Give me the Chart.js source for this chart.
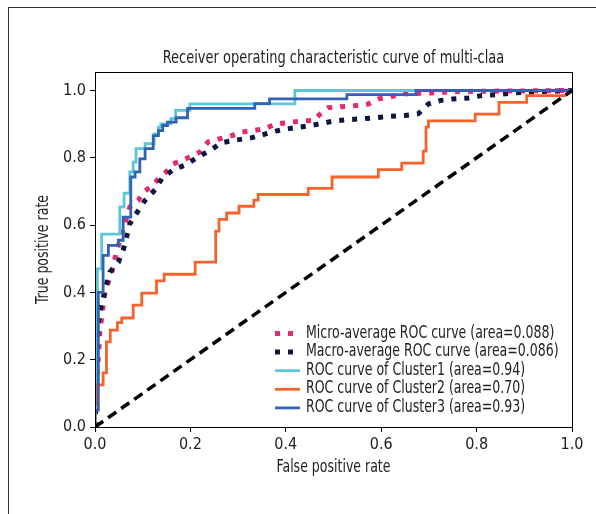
<!DOCTYPE html>
<html>
<head>
<meta charset="utf-8">
<script src="https://cdn.jsdelivr.net/npm/chart.js@4.4.1/dist/chart.umd.min.js"></script>
<style>
  html, body { margin: 0; padding: 0; background: #fff; }
  #wrap { position: relative; width: 596px; height: 514px; }
  #frame { position: absolute; left: 8px; top: 7px; right: 0; bottom: 0;
           border-left: 1px solid #333; border-top: 1px solid #333; pointer-events: none; }
</style>
</head>
<body>
<div id="wrap">
  <canvas id="roc" width="596" height="514" style="width:596px;height:514px"></canvas>
  <div id="frame"></div>
</div>
<script>
var FONT = '"DejaVu Sans Condensed", "Liberation Sans Narrow", sans-serif';
var TEXT_COLOR = '#222';

var titleText = 'Receiver operating characteristic curve of multi-claa';
var xLabel = 'False positive rate';
var yLabel = 'True positive rate';

var xTicks = [0, 0.2, 0.4, 0.6, 0.8, 1.0];
var yTicks = [0, 0.2, 0.4, 0.6, 0.8, 1.0];

var seriesNames = ['Micro-average ROC curve', 'Macro-average ROC curve',
                   'ROC curve of Cluster1', 'ROC curve of Cluster2', 'ROC curve of Cluster3'];
var areas = ['0.088', '0.086', '0.94', '0.70', '0.93'];

// micro / macro averaged curves
var microFpr = [0, 0.002, 0.005, 0.010, 0.017, 0.021, 0.028, 0.035, 0.045, 0.059, 0.073, 0.091, 0.101, 0.119,
                0.136, 0.149, 0.164, 0.195, 0.22, 0.237, 0.287, 0.304, 0.332, 0.356, 0.377, 0.43, 0.458, 0.472,
                0.489, 0.545, 0.573, 0.594, 0.618, 0.64, 0.698, 0.75, 1.0];
var microTpr = [0, 0.06, 0.16, 0.28, 0.36, 0.40, 0.43, 0.46, 0.52, 0.587, 0.654, 0.674, 0.698, 0.715,
                0.743, 0.758, 0.782, 0.80, 0.817, 0.847, 0.866, 0.876, 0.881, 0.886, 0.90, 0.909, 0.911, 0.93,
                0.949, 0.955, 0.96, 0.975, 0.98, 0.99, 0.992, 0.997, 1.0];

var macroFpr = [0, 0.003, 0.007, 0.010, 0.025, 0.031, 0.049, 0.059, 0.073, 0.091, 0.105, 0.126, 0.14, 0.164,
                0.192, 0.213, 0.241, 0.266, 0.297, 0.329, 0.381, 0.412, 0.444, 0.468, 0.5, 0.528, 0.559, 0.587,
                0.618, 0.65, 0.678, 0.699, 0.723, 0.75, 0.783, 0.811, 0.842, 0.87, 0.9, 0.93, 0.96, 1.0];
var macroTpr = [0, 0.2, 0.31, 0.34, 0.43, 0.46, 0.49, 0.525, 0.604, 0.644, 0.674, 0.705, 0.738, 0.765,
                0.78, 0.80, 0.822, 0.845, 0.853, 0.86, 0.88, 0.888, 0.894, 0.90, 0.909, 0.913, 0.916, 0.919,
                0.923, 0.926, 0.931, 0.96, 0.97, 0.975, 0.978, 0.985, 0.988, 0.992, 0.995, 0.997, 0.998, 1.0];

// per-cluster step curves
var c1Fpr = [0, 0, 0.005, 0.005, 0.014, 0.014, 0.052, 0.052, 0.061, 0.061, 0.073, 0.073, 0.080, 0.080,
             0.086, 0.086, 0.105, 0.105, 0.124, 0.124, 0.133, 0.133, 0.138, 0.138, 0.159, 0.159, 0.169,
             0.169, 0.199, 0.199, 0.419, 0.419, 1.0];
var c1Tpr = [0, 0.13, 0.13, 0.47, 0.47, 0.573, 0.573, 0.654, 0.654, 0.695, 0.695, 0.758, 0.758, 0.787,
             0.787, 0.827, 0.827, 0.842, 0.842, 0.871, 0.871, 0.891, 0.891, 0.901, 0.901, 0.916, 0.916,
             0.941, 0.941, 0.96, 0.96, 1.0, 1.0];

var c2Fpr = [0, 0, 0.004, 0.004, 0.017, 0.017, 0.024, 0.024, 0.032, 0.032, 0.047, 0.047, 0.056, 0.056,
             0.080, 0.080, 0.098, 0.098, 0.129, 0.129, 0.145, 0.145, 0.210, 0.210, 0.253, 0.253, 0.260,
             0.260, 0.276, 0.276, 0.302, 0.302, 0.333, 0.333, 0.342, 0.342, 0.447, 0.447, 0.497, 0.497,
             0.594, 0.594, 0.643, 0.643, 0.688, 0.688, 0.694, 0.694, 0.699, 0.699, 0.797, 0.797, 0.847,
             0.847, 0.905, 0.905, 0.985, 1.0];
var c2Tpr = [0, 0.065, 0.065, 0.125, 0.125, 0.161, 0.161, 0.253, 0.253, 0.288, 0.288, 0.31, 0.31, 0.324,
             0.324, 0.362, 0.362, 0.398, 0.398, 0.434, 0.434, 0.454, 0.454, 0.49, 0.49, 0.582, 0.582,
             0.617, 0.617, 0.636, 0.636, 0.656, 0.656, 0.674, 0.674, 0.691, 0.691, 0.709, 0.709, 0.743,
             0.743, 0.765, 0.765, 0.784, 0.784, 0.82, 0.82, 0.891, 0.891, 0.91, 0.91, 0.93, 0.93,
             0.965, 0.965, 0.985, 0.985, 1.0];

var c3Fpr = [0, 0, 0.007, 0.007, 0.017, 0.017, 0.028, 0.028, 0.049, 0.049, 0.059, 0.059, 0.075, 0.075,
             0.084, 0.084, 0.094, 0.094, 0.105, 0.105, 0.122, 0.122, 0.133, 0.133, 0.142, 0.142, 0.152,
             0.152, 0.170, 0.170, 0.194, 0.194, 0.335, 0.335, 0.366, 0.366, 0.528, 0.528, 0.673, 0.673, 1.0];
var c3Tpr = [0, 0.05, 0.05, 0.40, 0.40, 0.51, 0.51, 0.54, 0.54, 0.555, 0.555, 0.624, 0.624, 0.743,
             0.743, 0.758, 0.758, 0.797, 0.797, 0.827, 0.827, 0.866, 0.866, 0.881, 0.881, 0.896, 0.896,
             0.906, 0.906, 0.919, 0.919, 0.947, 0.947, 0.961, 0.961, 0.975, 0.975, 0.988, 0.988, 1.0, 1.0];

var chanceFpr = [0, 1];
var chanceTpr = [0, 1];

function pts(xs, ys) {
  return xs.map(function (x, i) { return { x: x, y: ys[i] }; });
}

var datasets = [
  { label: seriesNames[0] + ' (area=' + areas[0] + ')', data: pts(microFpr, microTpr),
    borderColor: '#e8296b', borderWidth: 5, borderDash: [5, 8], order: 6 },
  { label: seriesNames[1] + ' (area=' + areas[1] + ')', data: pts(macroFpr, macroTpr),
    borderColor: '#0c1741', borderWidth: 5, borderDash: [5, 8], order: 5 },
  { label: seriesNames[2] + ' (area=' + areas[2] + ')', data: pts(c1Fpr, c1Tpr),
    borderColor: '#5bc6d6', borderWidth: 2.8, order: 4 },
  { label: seriesNames[3] + ' (area=' + areas[3] + ')', data: pts(c2Fpr, c2Tpr),
    borderColor: '#f4642a', borderWidth: 2.8, order: 3 },
  { label: seriesNames[4] + ' (area=' + areas[4] + ')', data: pts(c3Fpr, c3Tpr),
    borderColor: '#3262b3', borderWidth: 2.8, order: 2 },
  { label: 'chance', data: pts(chanceFpr, chanceTpr),
    borderColor: '#000', borderWidth: 3.5, borderDash: [10, 6], order: 1, noLegend: true }
];
datasets.forEach(function (d) {
  d.pointRadius = 0;
  d.fill = false;
  d.tension = 0;
  d.borderCapStyle = 'butt';
});

// text squeezed horizontally around its anchor point (narrow label face)
function narrowText(ctx, text, x, y, align, squeeze, rot) {
  ctx.save();
  ctx.translate(x, y);
  if (rot) ctx.rotate(rot);
  ctx.scale(squeeze, 1);
  ctx.textAlign = align;
  ctx.textBaseline = 'alphabetic';
  ctx.fillText(text, 0, 0);
  ctx.restore();
}

// plot frame, title, axis titles and the legend box
var rocDecor = {
  id: 'rocDecor',
  afterDatasetsDraw: function (chart) {
    var ctx = chart.ctx, a = chart.chartArea;
    var cx = (a.left + a.right) / 2, cy = (a.top + a.bottom) / 2;
    ctx.save();
    ctx.strokeStyle = '#000';
    ctx.lineWidth = 1;
    ctx.strokeRect(a.left + 0.5, a.top + 0.5, a.right - a.left, a.bottom - a.top);

    ctx.fillStyle = TEXT_COLOR;
    ctx.font = '17px ' + FONT;
    narrowText(ctx, titleText, cx, a.top - 9, 'center', 0.85);
    narrowText(ctx, xLabel, cx, a.bottom + 45, 'center', 0.82);
    narrowText(ctx, yLabel, a.left - 47, cy, 'center', 0.82, -Math.PI / 2);

    var x0 = a.left + 180, y0 = a.bottom - 93.5, rowH = 18.6;
    chart.data.datasets.forEach(function (d, i) {
      if (d.noLegend) return;
      var y = y0 + i * rowH;
      ctx.save();
      ctx.strokeStyle = d.borderColor;
      ctx.lineWidth = d.borderWidth;
      ctx.setLineDash(d.borderDash || []);
      ctx.beginPath();
      ctx.moveTo(x0, y);
      ctx.lineTo(x0 + 25, y);
      ctx.stroke();
      ctx.restore();
      narrowText(ctx, d.label, x0 + 31, y + 4, 'left', 0.82);
    });
    ctx.restore();
  }
};

new Chart(document.getElementById('roc'), {
  type: 'line',
  data: { datasets: datasets },
  plugins: [rocDecor],
  options: {
    responsive: false,
    animation: false,
    layout: { padding: { top: 72, left: 0, right: 24, bottom: 0 } },
    plugins: {
      legend: { display: false },
      tooltip: { enabled: false },
      title: { display: false }
    },
    scales: {
      x: {
        type: 'linear', min: 0, max: 1,
        afterFit: function (s) { s.height = 87; },
        afterBuildTicks: function (s) { s.ticks = xTicks.map(function (v) { return { value: v }; }); },
        grid: { display: true, drawOnChartArea: false, color: '#000', tickLength: 5, tickWidth: 1 },
        border: { display: true, color: '#000', width: 1 },
        ticks: { color: TEXT_COLOR, padding: 3, font: { family: FONT, size: 16 },
                 callback: function (v) { return v.toFixed(1); } }
      },
      y: {
        type: 'linear', min: 0, max: 1.055,
        afterFit: function (s) { s.width = 95; },
        afterBuildTicks: function (s) { s.ticks = yTicks.map(function (v) { return { value: v }; }); },
        grid: { display: true, drawOnChartArea: false, color: '#000', tickLength: 5, tickWidth: 1 },
        border: { display: true, color: '#000', width: 1 },
        ticks: { color: TEXT_COLOR, padding: 4, font: { family: FONT, size: 16 },
                 callback: function (v) { return v.toFixed(1); } }
      }
    }
  }
});
</script>
</body>
</html>
